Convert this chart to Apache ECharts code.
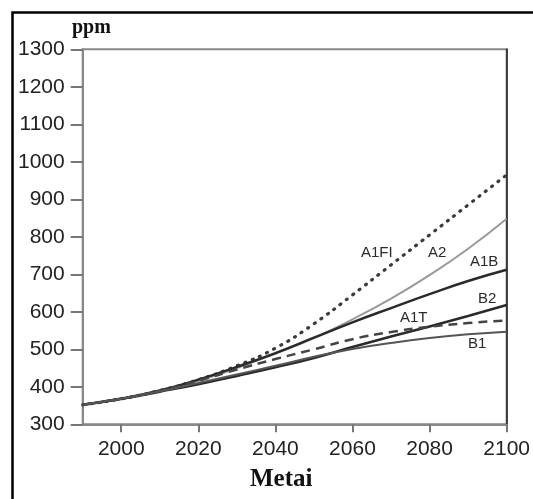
<!DOCTYPE html>
<html>
<head>
<meta charset="utf-8">
<script src="https://cdn.jsdelivr.net/npm/echarts@6/dist/echarts.min.js"></script>
<style>
html,body{margin:0;padding:0;background:#fff;}
#c{width:533px;height:499px;}
</style>
</head>
<body>
<div id="c"></div>
<script>
var years = [1990, 2000, 2010, 2020, 2030, 2040, 2050, 2060, 2070, 2080, 2090, 2100];
var A1FI = [352, 368, 390, 419, 456, 503, 568, 645, 725, 805, 885, 965];
var A2   = [352, 368, 389, 416, 450, 488, 530, 580, 635, 698, 768, 848];
var A1B  = [352, 368, 390, 419, 453, 490, 531, 572, 610, 647, 682, 712];
var B2   = [352, 368, 387, 407, 429, 452, 477, 506, 534, 561, 589, 618];
var A1T  = [352, 368, 389, 416, 446, 474, 500, 527, 546, 560, 570, 577];
var B1   = [352, 368, 388, 410, 433, 456, 480, 501, 517, 530, 540, 547];
var xTicks = [2000, 2020, 2040, 2060, 2080, 2100];

function pairs(v){ return years.map(function(y,i){ return [y, v[i]]; }); }

var chart = echarts.init(document.getElementById('c'), null, {renderer:'canvas'});
var lab = {fontFamily:'Liberation Sans, Arial, sans-serif', fontSize:15, fill:'#2a2a2a'};
function t(txt,x,y){ return {type:'text', left:x, top:y, style:Object.assign({text:txt}, lab), z:10}; }

chart.setOption({
  backgroundColor:'#fff',
  animation:false,
  grid:{left:82.7, right:22.3, top:49.3, bottom:74.7, show:true, borderColor:'#888', borderWidth:2, backgroundColor:'transparent'},
  xAxis:[{
    type:'value', min:1990, max:2100,
    axisLine:{show:true, lineStyle:{color:'#888', width:2}},
    axisTick:{show:true, customValues:xTicks, length:8, lineStyle:{color:'#777', width:2}},
    axisLabel:{customValues:xTicks, margin:14, color:'#222', fontSize:21, fontFamily:'Liberation Sans, Arial, sans-serif', formatter:function(v){return String(v);}},
    splitLine:{show:false}
  }],
  yAxis:[{
    type:'value', min:300, max:1300, interval:100,
    axisLine:{show:true, lineStyle:{color:'#888', width:2}},
    axisTick:{show:true, inside:false, length:12, lineStyle:{color:'#777', width:2}},
    axisLabel:{margin:18, color:'#222', fontSize:21, fontFamily:'Liberation Sans, Arial, sans-serif', formatter:function(v){return String(v);}},
    splitLine:{show:false}
  },{
    type:'value', min:300, max:1300, position:'right',
    axisLine:{show:true, lineStyle:{color:'#222', width:1.5}},
    axisTick:{show:false}, axisLabel:{show:false}, splitLine:{show:false}
  }],
  series:[
    {name:'A1FI', type:'line', smooth:true, showSymbol:false, data:pairs(A1FI), lineStyle:{color:'#3a3a3a', width:3.2, type:[1,7], cap:'round'}},
    {name:'A2', type:'line', smooth:true, showSymbol:false, data:pairs(A2), lineStyle:{color:'#999', width:2}},
    {name:'A1B', type:'line', smooth:true, showSymbol:false, data:pairs(A1B), lineStyle:{color:'#2a2a2a', width:2.5}},
    {name:'B2', type:'line', smooth:true, showSymbol:false, data:pairs(B2), lineStyle:{color:'#2a2a2a', width:2.5}},
    {name:'A1T', type:'line', smooth:true, showSymbol:false, data:pairs(A1T), lineStyle:{color:'#444', width:2.5, type:[9,6]}},
    {name:'B1', type:'line', smooth:true, showSymbol:false, data:pairs(B1), lineStyle:{color:'#555', width:2}}
  ],
  graphic:[
    {type:'rect', left:10, top:10, shape:{width:560, height:520}, style:{fill:'none', stroke:'#000', lineWidth:2.5}, z:0},
    {type:'text', left:72, top:18, style:{text:'ppm', font:'bold 20px "Liberation Serif", "DejaVu Serif", serif', fill:'#111'}},
    {type:'text', left:250, top:467, style:{text:'Metai', font:'bold 25px "Liberation Serif", "DejaVu Serif", serif', fill:'#111'}},
    t('A1FI', 361, 245), t('A2', 428, 245), t('A1B', 470, 254), t('B2', 478, 291), t('A1T', 400, 310), t('B1', 468, 336)
  ]
});
</script>
</body>
</html>
